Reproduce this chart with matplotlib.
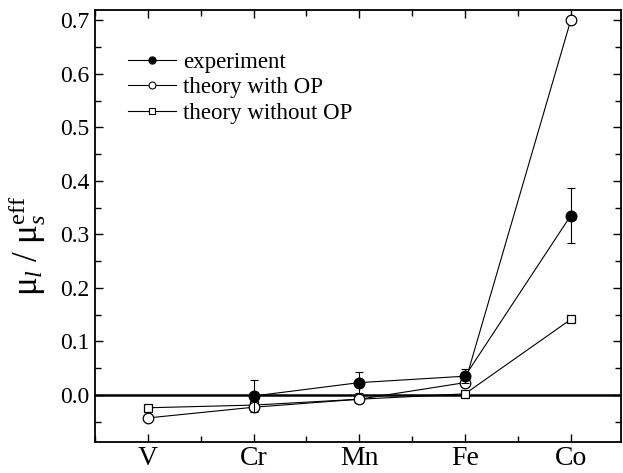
import matplotlib
matplotlib.use("Agg")
import matplotlib.pyplot as plt
from matplotlib.ticker import MultipleLocator
from matplotlib.lines import Line2D
import numpy as np

plt.rcParams['font.family'] = ['Liberation Serif', 'DejaVu Serif']
plt.rcParams['mathtext.fontset'] = 'custom'
plt.rcParams['mathtext.rm'] = 'Liberation Serif'
plt.rcParams['mathtext.it'] = 'Liberation Serif:italic'
plt.rcParams['mathtext.bf'] = 'Liberation Serif:bold'

elements = ["V", "Cr", "Mn", "Fe", "Co"]

exp_elements = ["Cr", "Mn", "Fe", "Co"]
exp_values = [-0.002, 0.023, 0.035, 0.335]
exp_errors = [0.029, 0.020, 0.013, 0.052]

theory_op = [-0.043, -0.023, -0.008, 0.023, 0.700]
theory_noop = [-0.024, -0.019, -0.008, 0.002, 0.141]

x_all = np.arange(len(elements))
x_exp = np.array([elements.index(e) for e in exp_elements])

fig = plt.figure(figsize=(6.23, 4.73), dpi=100)
ax = fig.add_axes([0.1525, 0.0655, 0.845, 0.913])

ax.axhline(0.0, color='black', lw=1.8, zorder=1)

ax.plot(x_all, theory_noop, '-s', color='black', lw=0.8, ms=6.2,
        mfc='white', mec='black', mew=0.9, zorder=2)
ax.plot(x_all, theory_op, '-o', color='black', lw=0.8, ms=7.6,
        mfc='white', mec='black', mew=0.9, zorder=3)
ax.errorbar(x_exp, exp_values, yerr=exp_errors, fmt='-o', color='black',
            lw=0.8, ms=7.6, mfc='black', mec='black', elinewidth=0.8,
            capsize=3, capthick=0.8, zorder=4)

ax.set_xlim(-0.5, 4.48)
ax.set_ylim(-0.088, 0.719)
ax.set_xticks(x_all)
ax.set_xticklabels(elements, fontsize=20)
ax.xaxis.set_minor_locator(MultipleLocator(0.5))
ax.yaxis.set_minor_locator(MultipleLocator(0.05))
yt = np.arange(0.0, 0.71, 0.1)
ax.set_yticks(yt)
ax.set_yticklabels([f"{v:.1f}" for v in yt], fontsize=17)
ax.tick_params(which='both', direction='in', top=True, right=True, width=1.0)
ax.tick_params(which='major', length=6)
ax.tick_params(which='minor', length=4)
ax.tick_params(axis='x', which='major', pad=3)
ax.tick_params(axis='y', which='major', pad=4)
for s in ax.spines.values():
    s.set_linewidth(1.3)

ax.set_ylabel(r'$\mathrm{\mu}_{l}\ /\ \mathrm{\mu}_{s}^{\mathrm{eff}}$', fontsize=25)
ax.yaxis.set_label_coords(-0.089, 0.455)

handles = [
    Line2D([], [], color='black', lw=0.8, marker='o', ms=5, mfc='black', mec='black'),
    Line2D([], [], color='black', lw=0.8, marker='o', ms=5, mfc='white', mec='black', mew=0.8),
    Line2D([], [], color='black', lw=0.8, marker='s', ms=4.2, mfc='white', mec='black', mew=0.8),
]
labels = ["experiment", "theory with OP", "theory without OP"]
ax.legend(handles, labels, loc='upper left',
          bbox_to_anchor=(0.045, 0.925), frameon=False, fontsize=16.5,
          handlelength=2.1, handletextpad=0.3,
          labelspacing=0.2, borderaxespad=0)

fig.savefig("out.png", dpi=100)
